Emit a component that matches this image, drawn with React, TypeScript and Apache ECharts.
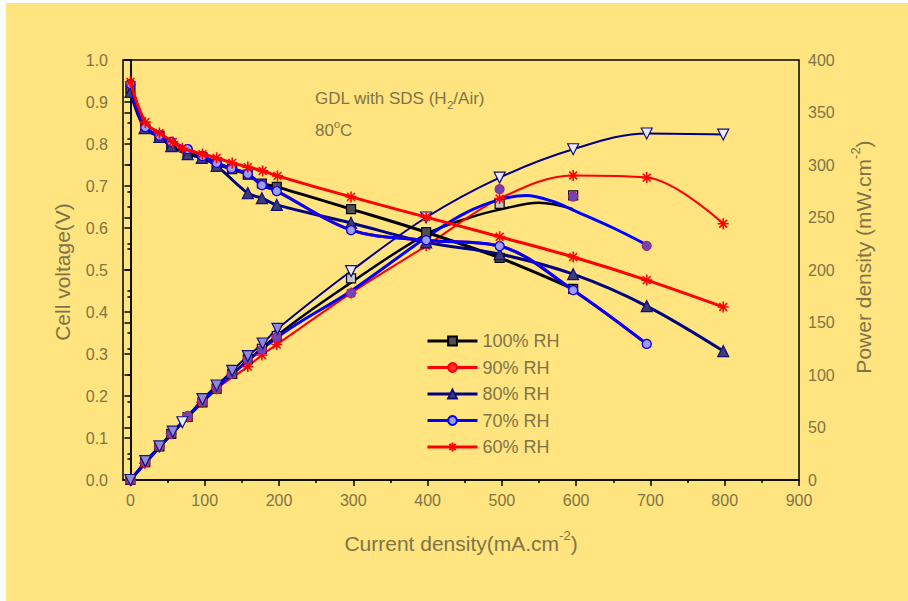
import React, { useEffect, useRef } from "react";
import * as echarts from "echarts";

// Tick values
const xMajorTicks = [0, 100, 200, 300, 400, 500, 600, 700, 800, 900];
const xMinorTicks = [50, 150, 250, 350, 450, 550, 650, 750, 850];

// 100% RH
const i100 = [0, 20, 39, 55, 77, 97, 116, 137, 158, 177, 197, 297, 398, 497, 596];
const v100 = [0.93, 0.836, 0.82, 0.793, 0.778, 0.768, 0.752, 0.74, 0.727, 0.706, 0.698, 0.645, 0.59, 0.529, 0.455];
const p100 = [0, 17, 32, 44, 60, 74, 87, 101, 115, 125, 137, 192, 235, 263, 271];
const i100Fit = [0, 100, 200, 297, 398, 457, 500, 550, 596];
const p100Fit = [0, 76, 139, 188, 234, 250, 258, 264, 258];

// 90% RH
const i90 = [0, 20, 39, 55, 77, 97, 116, 136, 158, 177, 197, 297, 398, 497, 596, 695];
const v90 = [0.943, 0.84, 0.82, 0.805, 0.788, 0.771, 0.755, 0.742, 0.729, 0.702, 0.688, 0.595, 0.571, 0.557, 0.452, 0.324];

// 80% RH
const i80 = [0, 19, 39, 55, 77, 96, 116, 158, 177, 197, 297, 398, 497, 596, 695, 798];
const v80 = [0.924, 0.838, 0.817, 0.795, 0.776, 0.767, 0.748, 0.683, 0.671, 0.655, 0.612, 0.566, 0.538, 0.49, 0.414, 0.307];
const pStar = [0, 16, 32, 44, 60, 74, 87, 108, 119, 129, 178, 223, 268, 290, 288, 244];

// 70% RH
const i70 = [0, 20, 39, 55, 77, 97, 116, 136, 158, 177, 197, 297, 398, 497, 596, 695];
const v70 = [0.943, 0.84, 0.82, 0.805, 0.788, 0.771, 0.755, 0.742, 0.729, 0.702, 0.688, 0.595, 0.571, 0.557, 0.452, 0.324];
const p70 = [0, 17, 32, 44, 61, 75, 88, 101, 115, 124, 136, 178, 229, 277, 270, 223];
const i70Fit = [0, 100, 200, 297, 398, 450, 497, 533, 570, 596, 650, 695];
const p70Fit = [0, 77, 137, 180, 231, 254, 267, 271, 265, 257, 240, 224];

// 60% RH
const i60 = [0, 20, 39, 57, 70, 97, 116, 137, 158, 178, 198, 297, 398, 497, 596, 695, 798];
const v60 = [0.948, 0.852, 0.826, 0.805, 0.79, 0.776, 0.767, 0.755, 0.745, 0.736, 0.724, 0.674, 0.626, 0.579, 0.531, 0.476, 0.412];
const pTri = [0, 18, 32, 46, 55, 77, 90, 104, 118, 130, 144, 199, 250, 288, 315, 330, 329];

const legendNames = ["100% RH", "90% RH", "80% RH", "70% RH", "60% RH"];

const FONT = "'Liberation Sans', Arial, Helvetica, sans-serif";
const TXT = "#807446";
const BG = "#FFE480";
const STAR = "path://M0,-10L0,10M-10,0L10,0M-7.07,-7.07L7.07,7.07M-7.07,7.07L7.07,-7.07";

const pairs = (xs: number[], ys: number[]) => xs.map((x, i) => [x, ys[i]]);

function voltSeries(name: string, xs: number[], ys: number[], color: string, symbol: string,
  fill: string, border: string, size: number, z: number) {
  return {
    type: "line", name, yAxisIndex: 0, data: pairs(xs, ys), smooth: 0.35,
    symbol, symbolSize: size, showAllSymbol: true,
    lineStyle: { color, width: 3 },
    itemStyle: { color: fill, borderColor: border, borderWidth: symbol === STAR ? 1.6 : 1.2 },
    z, emphasis: { disabled: true },
  };
}

function powerLine(name: string, xs: number[], ys: number[], color: string, width: number, z: number) {
  return {
    type: "line", name, yAxisIndex: 1, data: pairs(xs, ys), smooth: 0.35,
    showSymbol: false, symbol: "none",
    lineStyle: { color, width }, itemStyle: { color }, z, emphasis: { disabled: true },
  };
}

function powerMarks(name: string, xs: number[], ys: number[], symbol: string, fill: any,
  border: string, size: number, z: number, rotate = 0) {
  return {
    type: "scatter", name, yAxisIndex: 1, data: pairs(xs, ys),
    symbol, symbolSize: size, symbolRotate: rotate,
    itemStyle: { color: fill, borderColor: border, borderWidth: symbol === STAR ? 1.6 : 1.2, opacity: 1 },
    z, emphasis: { disabled: true },
  };
}

const option: any = {
  animation: false,
  backgroundColor: "transparent",
  textStyle: { fontFamily: FONT },
  grid: { left: 123, right: 109, top: 60, bottom: 121, show: true, borderColor: "#000", borderWidth: 1.5, backgroundColor: "transparent" },
  legend: {
    data: legendNames, orient: "vertical", left: 421, top: 327,
    itemWidth: 50, itemHeight: 11, itemGap: 8.5,
    lineStyle: { width: 3 },
    textStyle: { color: TXT, fontSize: 18, fontFamily: FONT },
    selectedMode: false,
  },
  xAxis: [
    {
      type: "value", min: -10, max: 900, position: "bottom",
      axisLine: { show: true, lineStyle: { color: "#000", width: 1.5 } },
      axisTick: { show: true, length: 6, customValues: xMajorTicks, lineStyle: { color: "#000", width: 1.5 } },
      axisLabel: { customValues: xMajorTicks, color: TXT, fontSize: 16, fontFamily: FONT, margin: 12 },
      splitLine: { show: false },
    },
    {
      type: "value", min: -10, max: 900, position: "bottom",
      axisLine: { show: false },
      axisTick: { show: true, length: 3, customValues: xMinorTicks, lineStyle: { color: "#000", width: 1.5 } },
      axisLabel: { show: false },
      splitLine: { show: false },
    },
  ],
  yAxis: [
    {
      type: "value", min: 0, max: 1, interval: 0.1, position: "left",
      axisLine: { show: true, lineStyle: { color: "#000", width: 1.5 } },
      axisTick: { show: true, length: 6, lineStyle: { color: "#000", width: 1.5 } },
      minorTick: { show: true, splitNumber: 2, length: 3, lineStyle: { color: "#000", width: 1.5 } },
      axisLabel: { color: TXT, fontSize: 16, fontFamily: FONT, margin: 15, formatter: (v: number) => v.toFixed(1) },
      splitLine: { show: false },
    },
    {
      type: "value", min: 0, max: 400, interval: 50, position: "right",
      axisLine: { show: true, lineStyle: { color: "#000", width: 1.5 } },
      axisTick: { show: true, inside: true, length: 6, lineStyle: { color: "#000", width: 1.5 } },
      minorTick: { show: true, splitNumber: 2, length: 3, lineStyle: { color: "#000", width: 1.5 } },
      axisLabel: { color: TXT, fontSize: 16, fontFamily: FONT, margin: 9 },
      splitLine: { show: false },
    },
  ],
  graphic: [
    { type: "rect", z: -100, silent: true, shape: { x: 6, y: 3, width: 902, height: 598 }, style: { fill: BG } },
    {
      type: "text", x: 315, y: 98, silent: true,
      style: {
        text: "GDL with SDS (H{sub|2}/Air)", fill: TXT, fontSize: 17, fontFamily: FONT,
        verticalAlign: "middle", align: "left", lineHeight: 24,
        rich: { sub: { fontSize: 11, lineHeight: 11, verticalAlign: "bottom", fill: TXT, fontFamily: FONT } },
      },
    },
    {
      type: "text", x: 315, y: 130, silent: true,
      style: {
        text: "80{sup|o}C", fill: TXT, fontSize: 17, fontFamily: FONT,
        verticalAlign: "middle", align: "left", lineHeight: 24,
        rich: { sup: { fontSize: 11, lineHeight: 11, verticalAlign: "top", fill: TXT, fontFamily: FONT } },
      },
    },
    {
      type: "text", x: 461, y: 543, silent: true,
      style: {
        text: "Current density(mA.cm{sup|-2})", fill: TXT, fontSize: 21, fontFamily: FONT,
        verticalAlign: "middle", align: "center", lineHeight: 28,
        rich: { sup: { fontSize: 13, lineHeight: 13, verticalAlign: "top", fill: TXT, fontFamily: FONT } },
      },
    },
    {
      type: "text", x: 62, y: 272, rotation: Math.PI / 2, silent: true,
      style: {
        text: "Cell voltage(V)", fill: TXT, fontSize: 21, fontFamily: FONT,
        verticalAlign: "middle", align: "center",
      },
    },
    {
      type: "text", x: 863, y: 257, rotation: Math.PI / 2, silent: true,
      style: {
        text: "Power density (mW.cm{sup|-2})", fill: TXT, fontSize: 21, fontFamily: FONT,
        verticalAlign: "middle", align: "center", lineHeight: 28,
        rich: { sup: { fontSize: 13, lineHeight: 13, verticalAlign: "top", fill: TXT, fontFamily: FONT } },
      },
    },
  ],
  series: [
    // power density curves (right axis)
    powerLine("P 100", i100Fit, p100Fit, "#000000", 2.5, 2),
    powerLine("P stars", i80, pStar, "#FF0000", 2, 2),
    powerLine("P tri", i60, pTri, "#000080", 2, 2),
    powerLine("P 70", i70Fit, p70Fit, "#0000FF", 3, 3),
    powerMarks("P 100 pts", i100, p100, "rect", "#C8C8C8", "#000000", 9, 4),
    powerMarks("P stars pts", i80, pStar, STAR, "#FF0000", "#FF0000", 11, 4),
    powerMarks("P 70 pts", i70, p70, "circle", "#6A48B8", "#B0207A", 9, 4),
    powerMarks("P tri pts", i60, pTri,
      "triangle", (p: any) => (p.dataIndex <= 10 && p.dataIndex !== 4 ? "#8F8AD6" : "#ECEAF6"), "#10107A", 11, 4, 180),
    // cell voltage curves (left axis)
    voltSeries("100% RH", i100, v100, "#000000", "rect", "#505050", "#000000", 9, 6),
    voltSeries("80% RH", i80, v80, "#000080", "triangle", "#3C3C78", "#10107A", 11, 6),
    voltSeries("90% RH", i90, v90, "#FF0000", "circle", "#FF3030", "#FF0000", 9, 6),
    voltSeries("70% RH", i70, v70, "#0000FF", "circle", "#9C9CF0", "#0000FF", 9, 7),
    voltSeries("60% RH", i60, v60, "#FF0000", STAR, "#FF0000", "#FF0000", 11, 8),
  ],
};

export default function App() {
  const ref = useRef<HTMLDivElement>(null);
  useEffect(() => {
    const chart = echarts.init(ref.current!, null, { renderer: "svg" });
    chart.setOption(option);
    return () => chart.dispose();
  }, []);
  return (
    <div style={{ position: "fixed", left: 0, top: 0, width: 908, height: 601, background: "#fff" }}>
      <div ref={ref} style={{ width: 908, height: 601 }} />
    </div>
  );
}
